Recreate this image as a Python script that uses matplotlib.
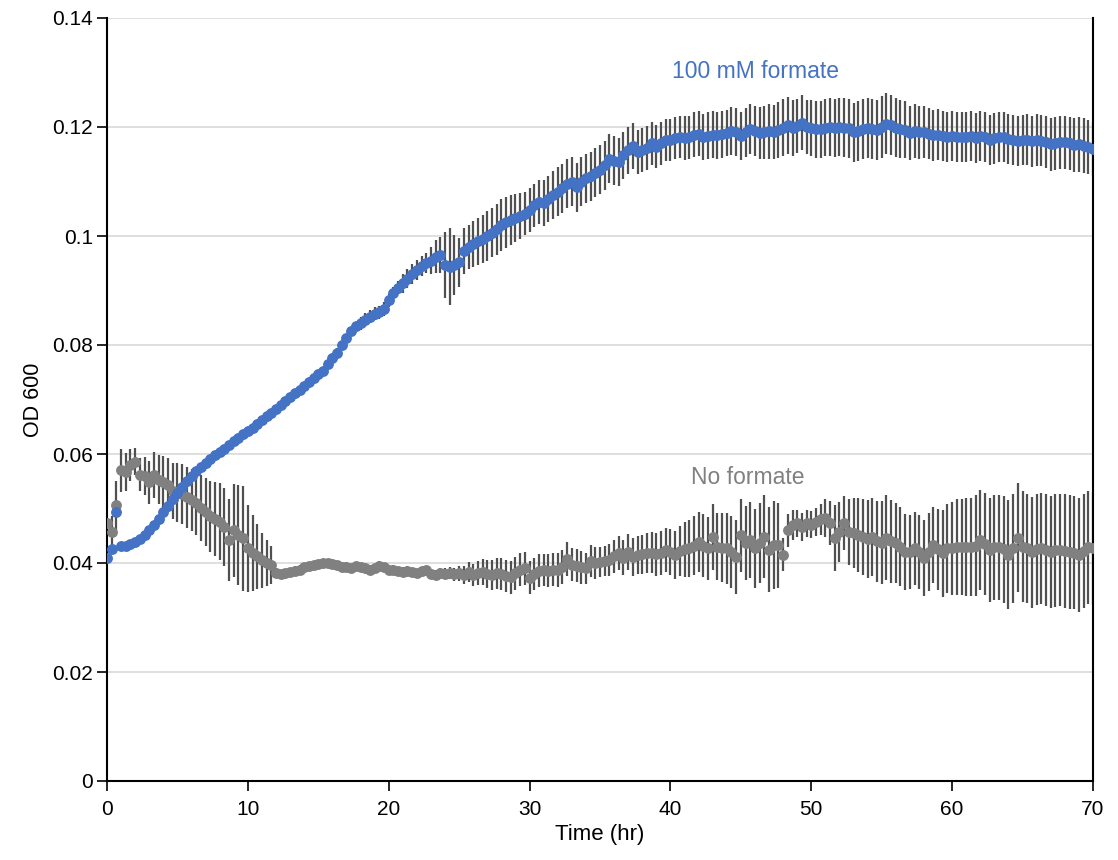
import matplotlib
matplotlib.use("Agg")
import matplotlib.pyplot as plt
import numpy as np

# sampling every 20 min, 0..70 hr
time_hr = [i / 3 for i in range(211)]

formate_od = [
    0.0410, 0.0426, 0.0494,  0.0431, 0.0432, 0.0434,  0.0438, 0.0444, 0.0451,
    0.0460, 0.0470, 0.0481,  0.0493, 0.0505, 0.0517,  0.0528, 0.0540, 0.0550,
    0.0560, 0.0568, 0.0576,  0.0584, 0.0591, 0.0598,  0.0604, 0.0610, 0.0616,
    0.0623, 0.0629, 0.0636,  0.0642, 0.0648, 0.0655,  0.0662, 0.0670, 0.0676,
    0.0683, 0.0690, 0.0697,  0.0705, 0.0712, 0.0718,  0.0725, 0.0733, 0.0740,
    0.0746, 0.0753, 0.0766,  0.0776, 0.0786, 0.0800,  0.0812, 0.0825, 0.0834,
    0.0840, 0.0846, 0.0852,  0.0857, 0.0860, 0.0866,  0.0882, 0.0895, 0.0905,
    0.0913, 0.0922, 0.0930,  0.0938, 0.0945, 0.0950,  0.0955, 0.0962, 0.0966,
    0.0947, 0.0944, 0.0946,  0.0952, 0.0972, 0.0980,  0.0985, 0.0990, 0.0995,
    0.1000, 0.1006, 0.1012,  0.1020, 0.1025, 0.1029,  0.1033, 0.1037, 0.1041,
    0.1048, 0.1056, 0.1062,  0.1060, 0.1068, 0.1075,  0.1081, 0.1088, 0.1096,
    0.1100, 0.1089, 0.1100,  0.1106, 0.1110, 0.1116,  0.1122, 0.1130, 0.1142,
    0.1138, 0.1136, 0.1148,  0.1157, 0.1165, 0.1154,  0.1158, 0.1162, 0.1170,
    0.1164, 0.1170, 0.1176,  0.1176, 0.1180, 0.1182,  0.1180, 0.1181, 0.1186,
    0.1188, 0.1182, 0.1184,  0.1186, 0.1185, 0.1187,  0.1189, 0.1192, 0.1190,
    0.1184, 0.1190, 0.1197,  0.1193, 0.1189, 0.1190,  0.1192, 0.1191, 0.1195,
    0.1199, 0.1203, 0.1198,  0.1202, 0.1208, 0.1200,  0.1198, 0.1196, 0.1196,
    0.1199, 0.1200, 0.1198,  0.1200, 0.1199, 0.1198,  0.1190, 0.1192, 0.1197,
    0.1199, 0.1196, 0.1194,  0.1200, 0.1206, 0.1203,  0.1199, 0.1197, 0.1195,
    0.1189, 0.1193, 0.1190,  0.1191, 0.1188, 0.1185,  0.1186, 0.1184, 0.1182,
    0.1183, 0.1182, 0.1181,  0.1182, 0.1183, 0.1180,  0.1184, 0.1181, 0.1176,
    0.1179, 0.1181, 0.1182,  0.1178, 0.1176, 0.1174,  0.1176, 0.1177, 0.1174,
    0.1176, 0.1175, 0.1172,  0.1168, 0.1170, 0.1172,  0.1172, 0.1170, 0.1167,
    0.1168, 0.1166, 0.1163,  0.1160,
]

formate_err = [
    0.0005, 0.0005, 0.0005,  0.0005, 0.0005, 0.0005,  0.0005, 0.0005, 0.0005,
    0.0005, 0.0005, 0.0005,  0.0005, 0.0005, 0.0005,  0.0005, 0.0005, 0.0005,
    0.0005, 0.0005, 0.0005,  0.0005, 0.0005, 0.0005,  0.0005, 0.0005, 0.0005,
    0.0005, 0.0005, 0.0005,  0.0005, 0.0005, 0.0005,  0.0005, 0.0005, 0.0005,
    0.0005, 0.0005, 0.0005,  0.0005, 0.0005, 0.0005,  0.0005, 0.0005, 0.0005,
    0.0005, 0.0005, 0.0005,  0.0008, 0.0008, 0.0008,  0.0008, 0.0008, 0.0008,
    0.0012, 0.0012, 0.0012,  0.0012, 0.0012, 0.0012,  0.0012, 0.0012, 0.0012,
    0.0018, 0.0018, 0.0018,  0.0018, 0.0018, 0.0018,  0.0025, 0.0030, 0.0033,
    0.0060, 0.0070, 0.0055,  0.0045, 0.0042, 0.0040,  0.0042, 0.0043, 0.0044,
    0.0045, 0.0045, 0.0046,  0.0047, 0.0047, 0.0046,  0.0044, 0.0042, 0.0040,
    0.0040, 0.0040, 0.0040,  0.0042, 0.0042, 0.0044,  0.0045, 0.0045, 0.0045,
    0.0045, 0.0045, 0.0045,  0.0045, 0.0045, 0.0045,  0.0045, 0.0045, 0.0045,
    0.0045, 0.0044, 0.0043,  0.0043, 0.0042, 0.0041,  0.0040, 0.0040, 0.0040,
    0.0039, 0.0039, 0.0039,  0.0038, 0.0038, 0.0039,  0.0040, 0.0040, 0.0041,
    0.0042, 0.0042, 0.0043,  0.0043, 0.0043, 0.0043,  0.0043, 0.0044, 0.0044,
    0.0044, 0.0045, 0.0046,  0.0046, 0.0047, 0.0048,  0.0050, 0.0050, 0.0051,
    0.0052, 0.0052, 0.0052,  0.0050, 0.0050, 0.0050,  0.0052, 0.0052, 0.0052,
    0.0053, 0.0053, 0.0053,  0.0054, 0.0054, 0.0054,  0.0054, 0.0055, 0.0055,
    0.0055, 0.0055, 0.0055,  0.0056, 0.0056, 0.0055,  0.0054, 0.0053, 0.0052,
    0.0050, 0.0049, 0.0048,  0.0047, 0.0047, 0.0047,  0.0047, 0.0046, 0.0046,
    0.0046, 0.0046, 0.0046,  0.0046, 0.0046, 0.0046,  0.0046, 0.0046, 0.0046,
    0.0046, 0.0046, 0.0046,  0.0046, 0.0046, 0.0046,  0.0046, 0.0046, 0.0047,
    0.0047, 0.0047, 0.0048,  0.0048, 0.0048, 0.0049,  0.0049, 0.0049, 0.0050,
    0.0050, 0.0050, 0.0050,  0.0050,
]

control_od = [
    0.0473, 0.0457, 0.0506,  0.0570, 0.0567, 0.0580,  0.0586, 0.0562, 0.0560,
    0.0548, 0.0562, 0.0553,  0.0548, 0.0543, 0.0532,  0.0530, 0.0527, 0.0521,
    0.0516, 0.0510, 0.0501,  0.0494, 0.0486, 0.0480,  0.0476, 0.0466, 0.0442,
    0.0460, 0.0452, 0.0445,  0.0427, 0.0418, 0.0412,  0.0405, 0.0400, 0.0396,
    0.0382, 0.0380, 0.0381,  0.0383, 0.0386, 0.0388,  0.0392, 0.0394, 0.0396,
    0.0398, 0.0400, 0.0400,  0.0399, 0.0396, 0.0392,  0.0393, 0.0391, 0.0394,
    0.0392, 0.0390, 0.0388,  0.0391, 0.0395, 0.0392,  0.0387, 0.0388, 0.0385,
    0.0384, 0.0386, 0.0383,  0.0381, 0.0385, 0.0387,  0.0380, 0.0378, 0.0381,
    0.0380, 0.0382, 0.0379,  0.0381, 0.0378, 0.0383,  0.0378, 0.0382, 0.0384,
    0.0380, 0.0378, 0.0381,  0.0380, 0.0376, 0.0374,  0.0381, 0.0388, 0.0390,
    0.0373, 0.0380, 0.0386,  0.0387, 0.0386, 0.0388,  0.0387, 0.0392, 0.0408,
    0.0397, 0.0395, 0.0392,  0.0390, 0.0404, 0.0400,  0.0402, 0.0404, 0.0405,
    0.0412, 0.0418, 0.0410,  0.0420, 0.0411, 0.0414,  0.0416, 0.0418, 0.0419,
    0.0416, 0.0418, 0.0424,  0.0420, 0.0415, 0.0422,  0.0425, 0.0427, 0.0432,
    0.0438, 0.0432, 0.0427,  0.0448, 0.0430, 0.0428,  0.0427, 0.0420, 0.0411,
    0.0451, 0.0437, 0.0442,  0.0427, 0.0437, 0.0448,  0.0424, 0.0433, 0.0433,
    0.0415, 0.0460, 0.0470,  0.0473, 0.0466, 0.0473,  0.0470, 0.0475, 0.0480,
    0.0482, 0.0473, 0.0446,  0.0457, 0.0473, 0.0457,  0.0455, 0.0452, 0.0448,
    0.0444, 0.0448, 0.0440,  0.0437, 0.0446, 0.0440,  0.0437, 0.0430, 0.0420,
    0.0420, 0.0427, 0.0420,  0.0409, 0.0420, 0.0433,  0.0425, 0.0418, 0.0427,
    0.0427, 0.0429, 0.0429,  0.0430, 0.0429, 0.0432,  0.0442, 0.0435, 0.0424,
    0.0429, 0.0429, 0.0425,  0.0415, 0.0427, 0.0446,  0.0430, 0.0427, 0.0420,
    0.0425, 0.0427, 0.0424,  0.0420, 0.0423, 0.0424,  0.0422, 0.0420, 0.0419,
    0.0415, 0.0422, 0.0429,  0.0427,
]

control_err = [
    0.0010, 0.0030, 0.0045,  0.0040, 0.0035, 0.0030,  0.0025, 0.0030, 0.0035,
    0.0040, 0.0042, 0.0045,  0.0048, 0.0050, 0.0052,  0.0054, 0.0055, 0.0056,
    0.0057, 0.0058, 0.0060,  0.0062, 0.0065, 0.0068,  0.0070, 0.0072, 0.0075,
    0.0085, 0.0092, 0.0096,  0.0080, 0.0070, 0.0060,  0.0050, 0.0042, 0.0035,
    0.0008, 0.0008, 0.0008,  0.0008, 0.0008, 0.0008,  0.0008, 0.0008, 0.0008,
    0.0008, 0.0008, 0.0008,  0.0008, 0.0008, 0.0008,  0.0008, 0.0008, 0.0008,
    0.0008, 0.0008, 0.0008,  0.0008, 0.0008, 0.0008,  0.0008, 0.0008, 0.0008,
    0.0008, 0.0008, 0.0008,  0.0008, 0.0008, 0.0008,  0.0009, 0.0009, 0.0010,
    0.0010, 0.0011, 0.0012,  0.0014, 0.0016, 0.0018,  0.0020, 0.0022, 0.0024,
    0.0026, 0.0027, 0.0028,  0.0030, 0.0030, 0.0030,  0.0030, 0.0030, 0.0030,
    0.0030, 0.0030, 0.0030,  0.0030, 0.0030, 0.0030,  0.0031, 0.0031, 0.0031,
    0.0030, 0.0030, 0.0030,  0.0029, 0.0029, 0.0029,  0.0028, 0.0028, 0.0029,
    0.0030, 0.0031, 0.0032,  0.0033, 0.0034, 0.0035,  0.0036, 0.0037, 0.0038,
    0.0039, 0.0040, 0.0040,  0.0042, 0.0044, 0.0046,  0.0050, 0.0052, 0.0054,
    0.0055, 0.0057, 0.0058,  0.0060, 0.0062, 0.0063,  0.0065, 0.0066, 0.0067,
    0.0067, 0.0068, 0.0070,  0.0072, 0.0074, 0.0076,  0.0078, 0.0080, 0.0078,
    0.0030, 0.0030, 0.0028,  0.0025, 0.0025, 0.0025,  0.0025, 0.0026, 0.0028,
    0.0035, 0.0040, 0.0060,  0.0055, 0.0050, 0.0060,  0.0065, 0.0068, 0.0070,
    0.0072, 0.0072, 0.0074,  0.0076, 0.0078, 0.0076,  0.0074, 0.0072, 0.0070,
    0.0068, 0.0067, 0.0068,  0.0070, 0.0072, 0.0070,  0.0075, 0.0080, 0.0082,
    0.0085, 0.0088, 0.0088,  0.0090, 0.0090, 0.0092,  0.0092, 0.0094, 0.0095,
    0.0096, 0.0096, 0.0098,  0.0100, 0.0100, 0.0100,  0.0102, 0.0100, 0.0102,
    0.0102, 0.0102, 0.0102,  0.0103, 0.0103, 0.0103,  0.0104, 0.0104, 0.0104,
    0.0104, 0.0104, 0.0104,  0.0104,
]

x_ticks = [0, 10, 20, 30, 40, 50, 60, 70]
y_ticks = [0, 0.02, 0.04, 0.06, 0.08, 0.1, 0.12, 0.14]
y_tick_labels = ["0", "0.02", "0.04", "0.06", "0.08", "0.1", "0.12", "0.14"]

BLUE = "#4472C4"
GRAY = "#808080"
ERR = "#505050"

fig = plt.figure(figsize=(11.18, 8.6), dpi=100)
ax = fig.add_axes([107 / 1118, 79 / 860, (1093 - 107) / 1118, (781 - 18) / 860])

ax.errorbar(time_hr, control_od, yerr=control_err, fmt="none", ecolor=ERR,
            elinewidth=1.6, capsize=0, zorder=2)
ax.errorbar(time_hr, formate_od, yerr=formate_err, fmt="none", ecolor=ERR,
            elinewidth=1.6, capsize=0, zorder=2)
ax.plot(time_hr, control_od, "o", color=GRAY, ms=6.8, mec=GRAY, zorder=3)
ax.plot(time_hr, formate_od, "o", color=BLUE, ms=6.8, mec=BLUE, zorder=4)

ax.set_xlim(0, 70)
ax.set_ylim(0, 0.14)
ax.set_xticks(x_ticks)
ax.set_yticks(y_ticks)
ax.set_yticklabels(y_tick_labels)

ax.grid(axis="y", color="#d9d9d9", linewidth=1.2, zorder=0)
ax.set_axisbelow(True)

for s in ["left", "bottom", "right"]:
    ax.spines[s].set_color("black")
    ax.spines[s].set_linewidth(1.5)
ax.spines["top"].set_visible(False)

fam = ["Liberation Sans", "DejaVu Sans"]
ax.tick_params(axis="both", direction="out", length=7, width=1.2, color="black")
ax.tick_params(axis="y", labelsize=15, pad=3)
ax.tick_params(axis="x", labelsize=15, pad=7)
for lab in ax.get_yticklabels() + ax.get_xticklabels():
    lab.set_family(fam)

ax.set_xlabel("Time (hr)", fontsize=16, family=fam, labelpad=3)
ax.set_ylabel("OD 600", fontsize=15.5, family=fam, labelpad=6)

ax.text(755 / 1118, 1 - 72 / 860, "100 mM formate", transform=fig.transFigure,
        color=BLUE, fontsize=16.5, family=fam, ha="center", va="center")
ax.text(748 / 1118, 1 - 477 / 860, "No formate", transform=fig.transFigure,
        color=GRAY, fontsize=16.5, family=fam, ha="center", va="center")

fig.savefig("out.png", dpi=100)
